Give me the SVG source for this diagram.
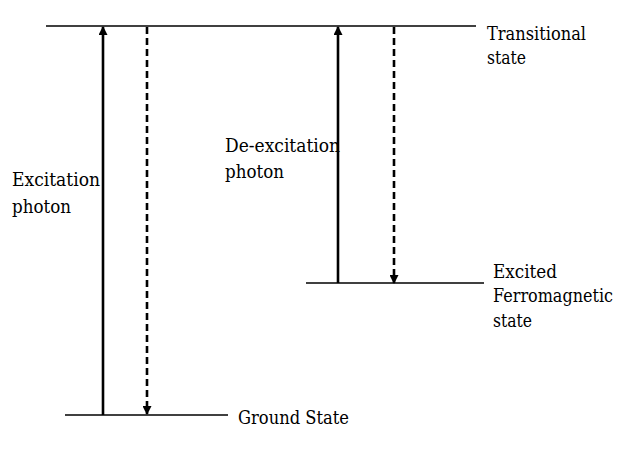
<svg xmlns="http://www.w3.org/2000/svg" width="635" height="450" viewBox="0 0 635 450">
<style>
.lvl{stroke:#000;stroke-width:1.3;fill:none}
.sol{stroke:#000;stroke-width:2.6;fill:none}
.dsh{stroke:#000;stroke-width:2.6;fill:none;stroke-dasharray:7 4}
.t{font-family:'DejaVu Serif',serif;font-size:18px;fill:#000}
</style>
<defs>
<marker id="ah" viewBox="0 0 10 10" refX="9" refY="5" markerWidth="10" markerHeight="9" markerUnits="userSpaceOnUse" orient="auto">
<path d="M0,0 L10,5 L0,10 z" fill="#000"/>
</marker>
</defs>
<rect width="635" height="450" fill="#fff"/>
<g id="transitional">
<line class="lvl" x1="46" y1="26" x2="476" y2="26"/>
<text class="t" x="487" y="40" textLength="99" lengthAdjust="spacingAndGlyphs">Transitional</text>
<text class="t" x="487" y="64" textLength="39" lengthAdjust="spacingAndGlyphs">state</text>
</g>
<g id="excited">
<line class="lvl" x1="306" y1="283" x2="484" y2="283"/>
<text class="t" x="493" y="278" textLength="64" lengthAdjust="spacingAndGlyphs">Excited</text>
<text class="t" x="493" y="302" textLength="120" lengthAdjust="spacingAndGlyphs">Ferromagnetic</text>
<text class="t" x="493" y="327" textLength="39" lengthAdjust="spacingAndGlyphs">state</text>
</g>
<g id="ground">
<line class="lvl" x1="65" y1="415" x2="228" y2="415"/>
<text class="t" x="238" y="424" textLength="111" lengthAdjust="spacingAndGlyphs">Ground State</text>
</g>
<g id="labels">
<text class="t" x="12" y="186" textLength="88" lengthAdjust="spacingAndGlyphs">Excitation</text>
<text class="t" x="12" y="213" textLength="59" lengthAdjust="spacingAndGlyphs">photon</text>
<text class="t" x="225" y="152" textLength="115" lengthAdjust="spacingAndGlyphs">De-excitation</text>
<text class="t" x="225" y="178" textLength="59" lengthAdjust="spacingAndGlyphs">photon</text>
</g>
<g id="connectors">
<line class="sol" x1="103" y1="415" x2="103" y2="27" marker-end="url(#ah)"/>
<line class="dsh" x1="147" y1="27" x2="147" y2="414" marker-end="url(#ah)"/>
<line class="sol" x1="338" y1="283" x2="338" y2="27" marker-end="url(#ah)"/>
<line class="dsh" x1="394" y1="27" x2="394" y2="283" marker-end="url(#ah)"/>
</g>
</svg>
